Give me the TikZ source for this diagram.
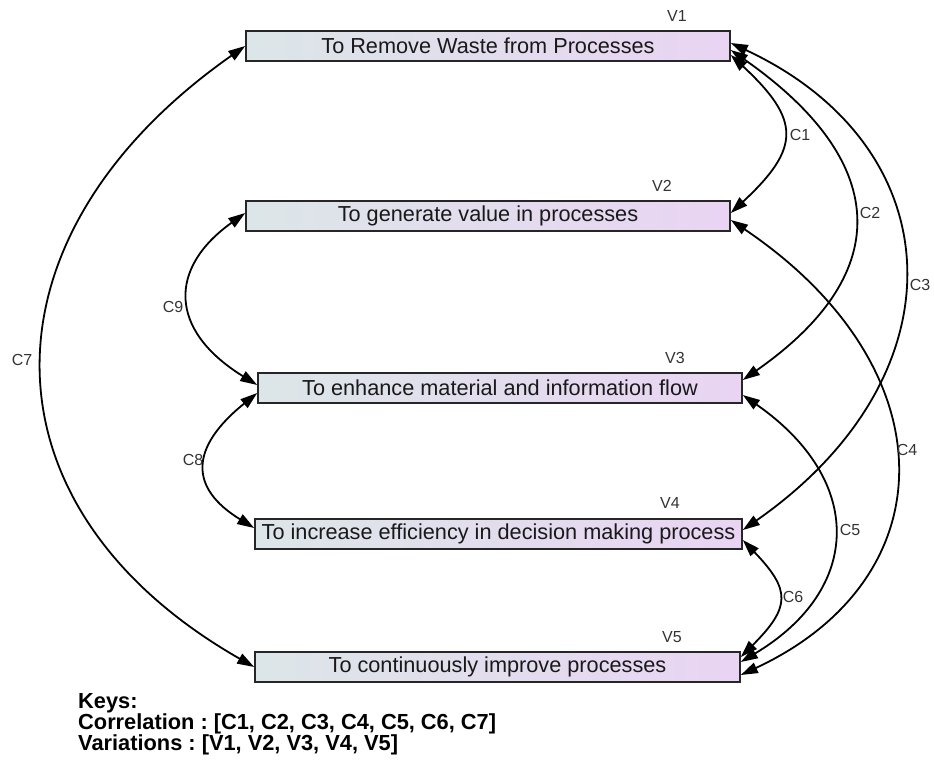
\documentclass[tikz,border=0pt]{standalone}
\usepackage{fontspec}
\setmainfont{Liberation Sans}
\usetikzlibrary{arrows.meta}
\definecolor{boxleft}{HTML}{DCE6E8}
\definecolor{boxright}{HTML}{E9D4F3}
\definecolor{labelgray}{HTML}{333333}
\frenchspacing

\begin{document}
\begin{tikzpicture}[x=1pt,y=-1pt,
  varbox/.style={draw=black!85, line width=1.6pt, left color=boxleft, right color=boxright,
    minimum height=30pt, inner sep=0pt, font=\fontsize{21.7}{24}\selectfont, text=black!90},
  tag/.style={font=\fontsize{16}{18}\selectfont, text=labelgray, inner sep=0pt},
  corr/.style={line width=1.8pt, {Triangle[length=17pt,width=11pt]}-{Triangle[length=17pt,width=11pt]}},
  keys/.style={font=\bfseries\fontsize{21.8}{21}\selectfont, align=left, inner sep=0pt, anchor=north west},
]
\useasboundingbox (0,0) rectangle (934,761);

% variation boxes
\node[varbox, minimum width=484pt] (v1) at (488,46) {To Remove Waste from Processes};
\node[varbox, minimum width=484pt] (v2) at (488,216) {To generate value in processes};
\node[varbox, minimum width=484pt] (v3) at (500,388) {To enhance material and information flow};
\node[varbox, minimum width=487pt] (v4) at (498.5,534) {To increase efficiency in decision making process};
\node[varbox, minimum width=485pt] (v5) at (497.5,667) {To continuously improve processes};

% variation tags
\node[tag] (t1) at (677,16) {V1};
\node[tag] (t2) at (662,186) {V2};
\node[tag] (t3) at (675,358) {V3};
\node[tag] (t4) at (670,503) {V4};
\node[tag] (t5) at (672,637) {V5};

% correlations on the right
\draw[corr] ([yshift=-9pt]v1.east) .. controls +(70,65) and +(70,-65) .. ([yshift=3pt]v2.east);
\draw[corr] ([yshift=-4pt]v1.east) .. controls +(156,109) and +(156,-109) .. ([yshift=8pt]v3.east);
\draw[corr] ([yshift=3pt]v1.east) .. controls +(223,104) and +(222,-155) .. ([yshift=4pt]v4.east);
\draw[corr] ([yshift=-4pt]v2.east) .. controls +(218,147) and +(208,-97) .. ([yshift=-8pt]v5.east);
\draw[corr] ([yshift=-7pt]v3.east) .. controls +(122,85) and +(122,-73) .. ([yshift=5pt]v5.east);
\draw[corr] ([yshift=-6pt]v4.east) .. controls +(48,50) and +(50,-50) .. ([yshift=10pt]v5.east);

% correlations on the left
\draw[corr] (v1.west) .. controls +(-271,190) and +(-280,-160) .. (v5.west);
\draw[corr] ([yshift=-5pt]v3.west) .. controls +(-68,55) and +(-65,-40) .. ([yshift=6pt]v4.west);
\draw[corr] ([yshift=3pt]v2.west) .. controls +(-77,55) and +(-89,-55) .. ([yshift=3pt]v3.west);

% correlation tags
\node[tag] (c1) at (800,135) {C1};
\node[tag] (c2) at (870,213) {C2};
\node[tag] (c3) at (920,285) {C3};
\node[tag] (c4) at (907,450) {C4};
\node[tag] (c5) at (850,530) {C5};
\node[tag] (c6) at (793,597) {C6};
\node[tag] (c7) at (22,360) {C7};
\node[tag] (c8) at (193,460) {C8};
\node[tag] (c9) at (173,307) {C9};

% legend
\node[keys] (legend) at (78,693) {Keys:\\Correlation : [C1, C2, C3, C4, C5, C6, C7]\\Variations : [V1, V2, V3, V4, V5]};
\end{tikzpicture}
\end{document}
